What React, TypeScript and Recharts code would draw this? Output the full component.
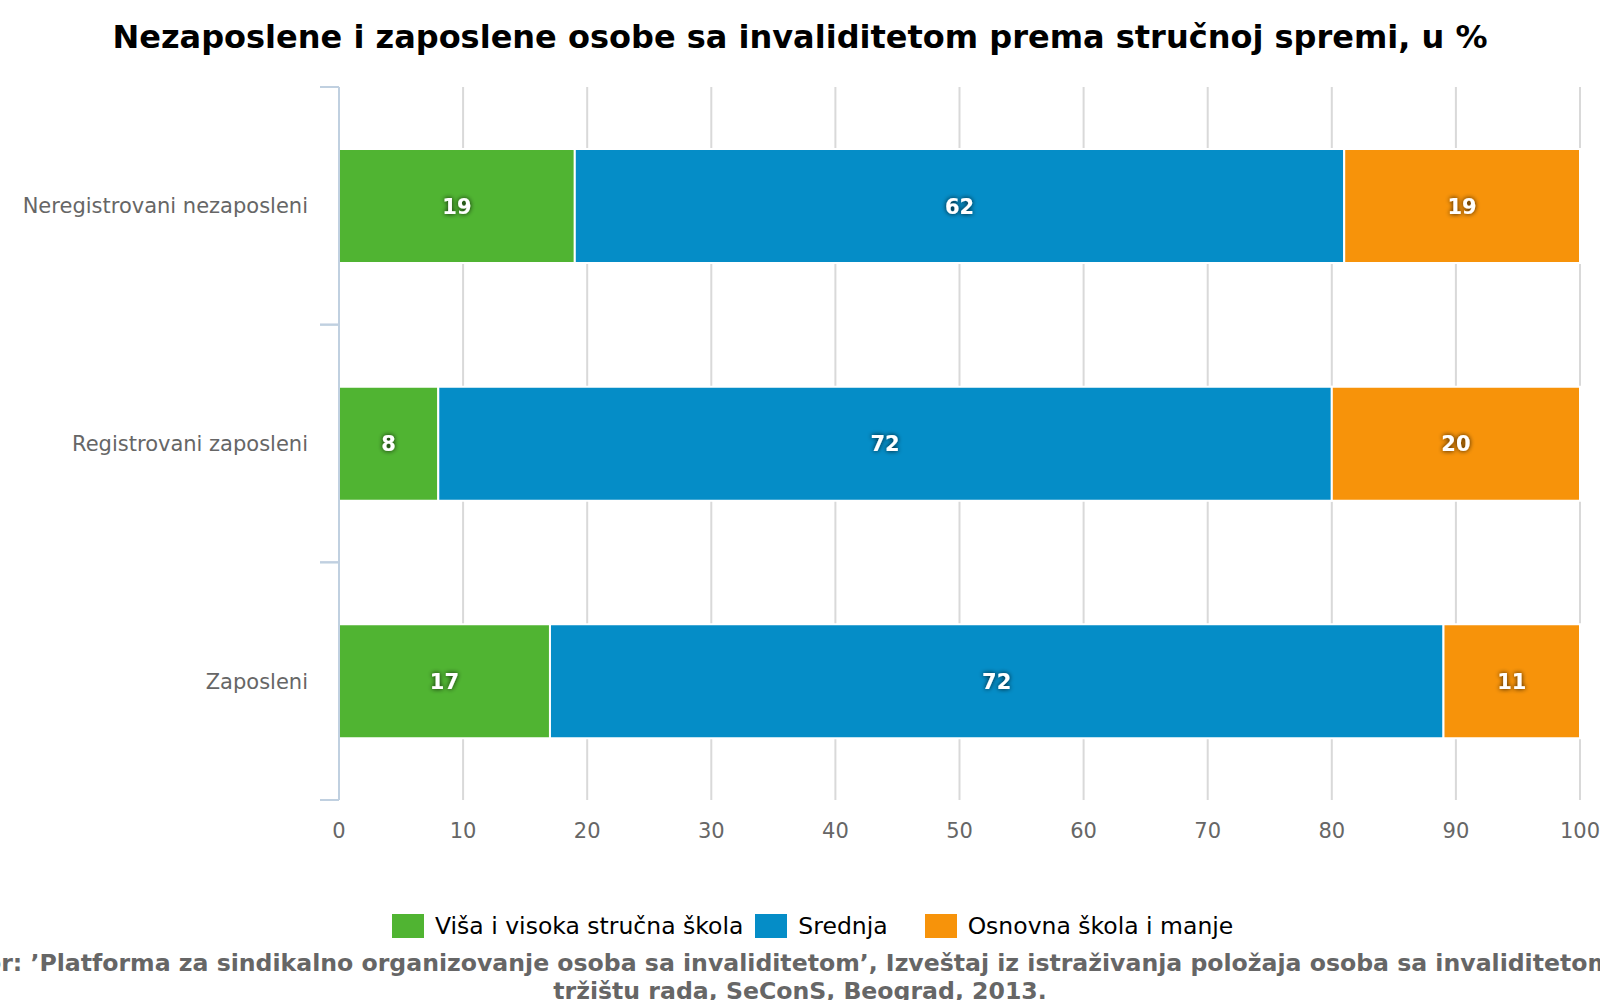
import React from 'react';
import { BarChart, Bar, XAxis, YAxis, CartesianGrid, LabelList, Legend } from 'recharts';

const CATEGORIES = ['Neregistrovani nezaposleni', 'Registrovani zaposleni', 'Zaposleni'];
const VISA = [19, 8, 17];
const SREDNJA = [62, 72, 72];
const OSNOVNA = [19, 20, 11];
const SERIES_NAMES = ['Viša i visoka stručna škola', 'Srednja', 'Osnovna škola i manje'];
const X_TICKS = [0, 10, 20, 30, 40, 50, 60, 70, 80, 90, 100];
const TITLE = 'Nezaposlene i zaposlene osobe sa invaliditetom prema stručnoj spremi, u %';
const SOURCE_LINE_1 =
  'Izvor: ’Platforma za sindikalno organizovanje osoba sa invaliditetom’, Izveštaj iz istraživanja položaja osoba sa invaliditetom na';
const SOURCE_LINE_2 = 'tržištu rada, SeConS, Beograd, 2013.';

const COLORS = ['#50B432', '#058DC7', '#F7930A'];
const AXIS_COLOR = '#C0D0E0';
const FONT = '"DejaVu Sans", Verdana, sans-serif';
const LEGEND_GAPS = [0, 12, 37];
const Y_TICK_MARGIN = 31;
const Y_TICK_LEN = 19;

const data = CATEGORIES.map((name, i) => ({
  name,
  visa: VISA[i],
  srednja: SREDNJA[i],
  osnovna: OSNOVNA[i],
}));

const renderLabel = (props: any) => {
  const { x, y, width, height, value } = props;
  return (
    <text
      x={Number(x) + Number(width) / 2}
      y={Number(y) + Number(height) / 2}
      dy="0.36em"
      textAnchor="middle"
      fill="#ffffff"
      fontWeight="bold"
      fontSize={21}
      fontFamily={FONT}
      filter="url(#lblShadow)"
    >
      {value}
    </text>
  );
};

const CategoryTick = (props: any) => {
  const { x, y, payload } = props;
  const off = Number(payload?.offset) || 0;
  const ax = Number(x) + Y_TICK_MARGIN;
  return (
    <g>
      <text
        x={x}
        y={y}
        dy="0.355em"
        textAnchor="end"
        fill="#666666"
        fontSize={21}
        fontFamily={FONT}
      >
        {payload.value}
      </text>
      {off > 0 && (
        <>
          <line x1={ax - Y_TICK_LEN} x2={ax} y1={y - off} y2={y - off} stroke={AXIS_COLOR} strokeWidth={2} />
          <line x1={ax - Y_TICK_LEN} x2={ax} y1={y + off} y2={y + off} stroke={AXIS_COLOR} strokeWidth={2} />
        </>
      )}
    </g>
  );
};

const renderLegend = (props: any) => {
  const payload = [...(props.payload || [])].sort(
    (a: any, b: any) => SERIES_NAMES.indexOf(a.value) - SERIES_NAMES.indexOf(b.value)
  );
  return (
    <div
      style={{
        display: 'flex',
        alignItems: 'center',
        paddingLeft: 392,
        height: 28,
        fontFamily: FONT,
        fontSize: 23.5,
        color: '#000',
      }}
    >
      {payload.map((entry: any, i: number) => (
        <div key={i} style={{ display: 'flex', alignItems: 'center', marginLeft: LEGEND_GAPS[i] }}>
          <div style={{ width: 32, height: 24, background: entry.color, marginRight: 11 }} />
          <span style={{ lineHeight: '28px', whiteSpace: 'nowrap' }}>{entry.value}</span>
        </div>
      ))}
    </div>
  );
};

export default function App() {
  return (
    <div
      style={{
        position: 'absolute',
        left: 0,
        top: 0,
        width: 1600,
        height: 1000,
        overflow: 'hidden',
        background: '#fff',
      }}
    >
      <BarChart
        width={1600}
        height={1000}
        data={data}
        layout="vertical"
        margin={{ top: 87, right: 20, left: 0, bottom: 160 }}
        barSize={114}
      >
        <CartesianGrid horizontal={false} stroke="#d9d9d9" strokeWidth={2} />
        <YAxis
          type="category"
          dataKey="name"
          width={339}
          axisLine={{ stroke: AXIS_COLOR, strokeWidth: 2 }}
          tickLine={false}
          tickSize={0}
          tickMargin={Y_TICK_MARGIN}
          interval={0}
          tick={<CategoryTick />}
        />
        <XAxis
          type="number"
          domain={[0, 100]}
          ticks={X_TICKS}
          axisLine={false}
          tickLine={false}
          tickMargin={17}
          height={40}
          tick={{ fill: '#666666', fontSize: 21, fontFamily: FONT }}
        />
        <Legend
          verticalAlign="middle"
          align="center"
          layout="horizontal"
          content={renderLegend}
          wrapperStyle={{ left: 0, top: 912, width: 1600, height: 28 }}
        />
        <Bar dataKey="visa" name={SERIES_NAMES[0]} stackId="a" fill={COLORS[0]} stroke="#fff" strokeWidth={2} isAnimationActive={false}>
          <LabelList dataKey="visa" content={renderLabel} />
        </Bar>
        <Bar dataKey="srednja" name={SERIES_NAMES[1]} stackId="a" fill={COLORS[1]} stroke="#fff" strokeWidth={2} isAnimationActive={false}>
          <LabelList dataKey="srednja" content={renderLabel} />
        </Bar>
        <Bar dataKey="osnovna" name={SERIES_NAMES[2]} stackId="a" fill={COLORS[2]} stroke="#fff" strokeWidth={2} isAnimationActive={false}>
          <LabelList dataKey="osnovna" content={renderLabel} />
        </Bar>
      </BarChart>
      <svg
        width={1600}
        height={1000}
        style={{ position: 'absolute', left: 0, top: 0, pointerEvents: 'none' }}
      >
        <defs>
          <filter id="lblShadow" x="-50%" y="-50%" width="200%" height="200%">
            <feGaussianBlur in="SourceAlpha" stdDeviation="2.5" result="b" />
            <feComponentTransfer in="b" result="b2">
              <feFuncA type="linear" slope="0.85" />
            </feComponentTransfer>
            <feMerge>
              <feMergeNode in="b2" />
              <feMergeNode in="SourceGraphic" />
            </feMerge>
          </filter>
        </defs>
        <text x={800} y={48} textAnchor="middle" fontFamily={FONT} fontWeight="bold" fontSize={32} fill="#000">
          {TITLE}
        </text>
        <text x={800} y={971} textAnchor="middle" fontFamily={FONT} fontWeight="bold" fontSize={23.6} fill="#666666">
          {SOURCE_LINE_1}
        </text>
        <text x={800} y={999} textAnchor="middle" fontFamily={FONT} fontWeight="bold" fontSize={23.6} fill="#666666">
          {SOURCE_LINE_2}
        </text>
      </svg>
    </div>
  );
}
